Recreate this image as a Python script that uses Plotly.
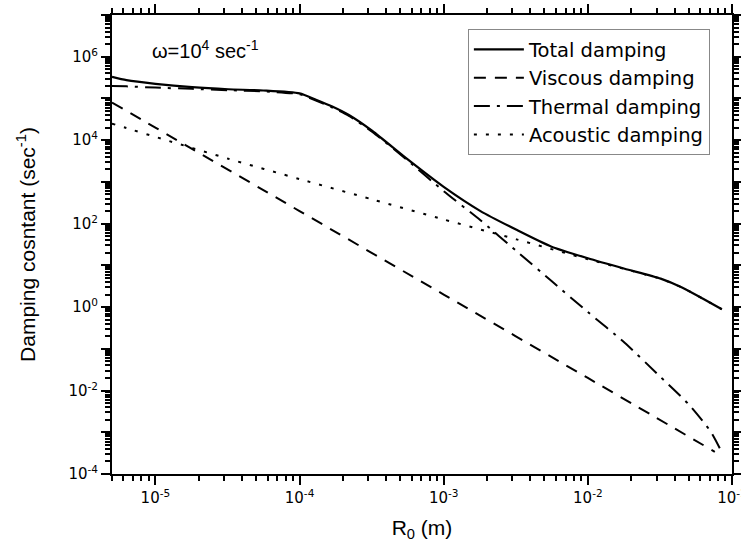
import plotly.graph_objects as go

# ---- data (R0 in m, damping constant in 1/s) ----
total_r0 = [5e-6, 6.3e-6, 1e-5, 1.8e-5, 3.2e-5, 5.6e-5, 1e-4, 1.3e-4, 1.7e-4, 2.2e-4,
            3.2e-4, 5.6e-4, 1e-3, 1.8e-3, 3.2e-3, 5.6e-3, 1e-2, 1.8e-2, 3.2e-2, 4.5e-2,
            6.3e-2, 8.5e-2]
total_val = [3.3e5, 2.75e5, 2.24e5, 1.86e5, 1.66e5, 1.55e5, 1.32e5, 9.3e4, 6.3e4, 4.0e4,
             1.66e4, 3.5e3, 7.6e2, 2.0e2, 71, 28, 14.8, 8.3, 4.8, 2.95, 1.58, 0.89]

viscous_r0 = [5e-6, 1e-5, 1e-4, 1e-3, 1e-2, 7.6e-2]
viscous_val = [8e4, 2e4, 2e2, 2.0, 2e-2, 3.4e-4]

thermal_r0 = [5e-6, 6.3e-6, 1e-5, 1.8e-5, 3.2e-5, 5.6e-5, 1e-4, 1.3e-4, 1.7e-4, 2.2e-4,
              3.2e-4, 5.6e-4, 1e-3, 1.8e-3, 3.2e-3, 5.6e-3, 1e-2, 1.8e-2, 3.2e-2, 5e-2,
              7.1e-2, 8.4e-2]
thermal_val = [2.0e5, 1.95e5, 1.82e5, 1.7e5, 1.58e5, 1.48e5, 1.26e5, 8.9e4, 6.0e4, 3.8e4,
               1.58e4, 3.3e3, 6.0e2, 1.2e2, 22, 4.2, 0.76, 0.14, 0.021, 4.7e-3,
               1.05e-3, 3.6e-4]

acoustic_r0 = [5e-6, 6.3e-6, 1e-5, 3.2e-5, 1e-4, 3.2e-4, 1e-3, 3.2e-3, 1e-2, 1.8e-2,
               3.2e-2, 4.5e-2, 6.3e-2, 8.5e-2]
acoustic_val = [2.5e4, 1.95e4, 1.2e4, 3.6e3, 1.17e3, 380, 126, 42, 14, 8.2,
                4.75, 2.95, 1.58, 0.89]

series_names = ["Total damping", "Viscous damping", "Thermal damping", "Acoustic damping"]

x_exps = [-5, -4, -3, -2, -1]
y_exps = list(range(-4, 8))

FONT = "Liberation Sans, Arial, sans-serif"
WIDE = "DejaVu Sans, Liberation Sans, sans-serif"
X_RANGE = [-5.301, -1.0]
Y_RANGE = [-4, 7]

fig = go.Figure()
specs = [
    (total_r0, total_val, "solid", 2.2, "x", "y"),
    (viscous_r0, viscous_val, "12px,9px", 2.0, "x", "y"),
    (thermal_r0, thermal_val, "16px,7px,3px,7px", 2.0, "x", "y"),
    (acoustic_r0, acoustic_val, "3px,9px", 2.0, "x2", "y2"),
]
for name, (xs, ys, dash, w, xa, ya) in zip(series_names, specs):
    fig.add_trace(go.Scatter(
        x=xs, y=ys, mode="lines", name=name, xaxis=xa, yaxis=ya,
        line=dict(color="black", width=w, dash=dash, shape="spline", smoothing=0.6),
    ))


def sup_label(e):
    return "10<sup>%d</sup>" % e


tick_font = dict(family=WIDE, size=15, color="black")
title_font = dict(family=FONT, size=21, color="black")

fig.update_layout(
    xaxis=dict(
        type="log", range=X_RANGE, automargin=False, ticklabeloverflow="allow",
        tickmode="array", tickvals=[10.0 ** e for e in x_exps],
        ticktext=[sup_label(e) for e in x_exps],
        ticks="outside", ticklen=9, tickwidth=1.5, tickcolor="black",
        showline=True, linecolor="black", linewidth=2, mirror="allticks",
        showgrid=False, zeroline=False, tickfont=tick_font,
        title=dict(text="R<sub>0</sub> (m)", font=title_font, standoff=14),
    ),
    yaxis=dict(
        type="log", range=Y_RANGE, automargin=False,
        tickmode="array", tickvals=[10.0 ** e for e in y_exps],
        ticktext=[sup_label(e) if e % 2 == 0 and e < 7 else "" for e in y_exps],
        ticks="outside", ticklen=9, tickwidth=1.5, tickcolor="black",
        showline=True, linecolor="black", linewidth=2, mirror="allticks",
        showgrid=False, zeroline=False, tickfont=tick_font,
        title=dict(text="Damping cosntant (sec<sup>-1</sup>)", font=title_font,
                   standoff=27),
    ),
    # overlay axes that only carry the small (minor) ticks
    xaxis2=dict(
        type="log", range=X_RANGE, overlaying="x", anchor="y2", side="bottom",
        automargin=False, dtick="D1", showticklabels=False,
        ticks="outside", ticklen=5, tickwidth=1.5, tickcolor="black",
        showline=True, linecolor="black", linewidth=2, mirror="allticks",
        showgrid=False, zeroline=False,
    ),
    yaxis2=dict(
        type="log", range=Y_RANGE, overlaying="y", anchor="x2", side="left",
        automargin=False, dtick="D1", showticklabels=False,
        ticks="outside", ticklen=5, tickwidth=1.5, tickcolor="black",
        showline=True, linecolor="black", linewidth=2, mirror="allticks",
        showgrid=False, zeroline=False,
    ),
)

fig.add_annotation(
    text="\u03c9=10<sup>4</sup> sec<sup>-1</sup>", xref="paper", yref="paper",
    x=0.061, y=0.924, xanchor="left", yanchor="middle", showarrow=False,
    font=dict(family=FONT, size=20, color="black"),
)

fig.update_layout(
    width=741, height=553,
    margin=dict(l=112, r=9, t=15, b=79),
    paper_bgcolor="white", plot_bgcolor="white",
    showlegend=True,
    legend=dict(
        x=0.574, y=0.969, xanchor="left", yanchor="top",
        bordercolor="#888888", borderwidth=1, bgcolor="white",
        font=dict(family=WIDE, size=19.5, color="black"),
        itemwidth=50, tracegroupgap=0,
    ),
)

fig.write_html("out.html")
